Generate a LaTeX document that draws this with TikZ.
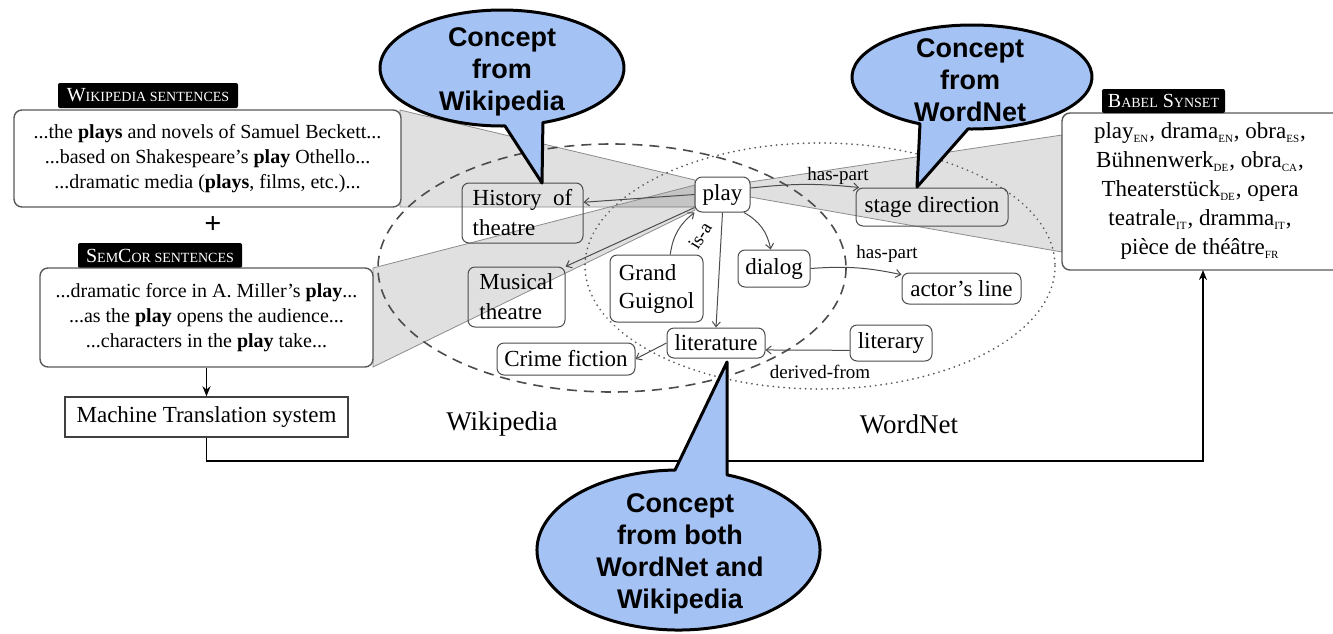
\documentclass[tikz,border=0pt]{standalone}
\usepackage{fontspec}
\setmainfont{Liberation Serif}
\newfontfamily\bubblefont{Liberation Sans}
\usetikzlibrary{arrows.meta}
\definecolor{bubbleblue}{HTML}{A4C2F4}
\newcommand\lngsub[1]{\textsubscript{\fontsize{5.5}{5.5}\selectfont #1}}
\newcommand\bigsc[1]{{\fontsize{10}{10}\selectfont #1}}
\newcommand\smsc[1]{{\fontsize{7}{7}\selectfont #1}}
\begin{document}
\begin{tikzpicture}[x=0.5pt,y=-0.5pt,
  wedge/.style={fill=black, fill opacity=0.12, draw=black!45, draw opacity=1, line width=0.4pt},
  sentbox/.style={draw=black!65, line width=0.7pt, rounded corners=4pt, fill=white, align=center, font=\fontsize{10}{12.5}\selectfont, inner sep=0pt},
  tab/.style={fill=black, text=white, inner sep=0pt, rounded corners=1pt},
  gnode/.style={draw=black!70, line width=0.5pt, rounded corners=3.5pt, inner sep=0pt, font=\fontsize{11.5}{12}\selectfont},
  gedge/.style={draw=black!70, line width=0.5pt, -{Straight Barb[length=2.5pt,width=4pt]}},
  elab/.style={font=\fontsize{9.5}{10}\selectfont, inner sep=0pt},
  bubble/.style={fill=bubbleblue, draw=black, line width=1.5pt, line join=round},
  btext/.style={align=center, inner sep=0pt, font=\bubblefont\bfseries\fontsize{13.5}{16}\selectfont},
  setlab/.style={font=\fontsize{13.5}{14}\selectfont, inner sep=0pt},
  wpell/.style={draw=black!70, line width=0.8pt, dash pattern=on 5pt off 3.5pt},
  wnell/.style={draw=black!65, line width=0.9pt, dash pattern=on 0.1pt off 2.6pt, line cap=round}]
\useasboundingbox (0,0) rectangle (1333,633);

% shaded wedges
\path[wedge] (400,110) -- (695,180) -- (695,207) -- (400,207) -- cycle;
\path[wedge] (373,268) -- (695,185) -- (695,210) -- (373,367) -- cycle;
\path[wedge] (750,182) -- (1062,135) -- (1062,252) -- (750,197) -- cycle;

% sets
\draw[wpell] (612,268) ellipse [x radius=234, y radius=124];
\draw[wnell] (820,266) ellipse [x radius=235, y radius=123];
\node[setlab] (wplab) at (502,424) {Wikipedia};
\node[setlab] (wnlab) at (909,424) {WordNet};

% left side
\node[tab, minimum width=90pt, minimum height=12.5pt] (wptab) at (148,95.5) {\bigsc{W}\smsc{IKIPEDIA SENTENCES}};
\node[sentbox, minimum width=193.5pt, minimum height=48.5pt] (wpbox) at (207.5,158.5)
  {...the \textbf{plays} and novels of Samuel Beckett...\\
   ...based on Shakespeare's \textbf{play} Othello...\\
   ...dramatic media (\textbf{plays}, films, etc.)...};
\node[font=\bfseries\fontsize{15}{15}\selectfont, inner sep=0pt] (plus) at (213,225) {+};
\node[tab, minimum width=82pt, minimum height=12.5pt] (sctab) at (160,255.5) {\bigsc{S}\smsc{EM}\bigsc{C}\smsc{OR SENTENCES}};
\node[sentbox, minimum width=166.5pt, minimum height=49.5pt] (scbox) at (206.5,317.5)
  {...dramatic force in A. Miller's \textbf{play}...\\
   ...as the \textbf{play} opens the audience...\\
   ...characters in the \textbf{play} take...};
\node[draw=black!75, line width=0.7pt, minimum width=141.5pt, minimum height=20pt, inner sep=0pt, font=\fontsize{11.5}{12}\selectfont] (mt) at (206.5,417) {Machine Translation system};

% Babel synset
\draw[draw=black!65, line width=0.7pt, fill=white, rounded corners=4pt] (1334,113) -- (1062,113) -- (1062,270) -- (1334,270);
\node[tab, minimum width=61.5pt, minimum height=12pt] (bstab) at (1163.5,101) {\bigsc{B}\smsc{ABEL} \bigsc{S}\smsc{YNSET}};
\node[align=center, font=\fontsize{11.5}{14.5}\selectfont, inner sep=0pt] (bstext) at (1200,191)
  {play\lngsub{EN}, drama\lngsub{EN}, obra\lngsub{ES},\\
   Bühnenwerk\lngsub{DE}, obra\lngsub{CA},\\
   Theaterstück\lngsub{DE}, opera\\
   teatrale\lngsub{IT}, dramma\lngsub{IT},\\
   pièce de théâtre\lngsub{FR}};
\coordinate (bsbot) at (1203,270);

\draw[-{Stealth[length=5pt,width=4pt]}, line width=0.8pt] (scbox.south) -- (mt.north);
\draw[-{Stealth[length=5pt,width=4pt]}, line width=0.8pt] (mt.south) -- ++(0,23) -| (bsbot);

% graph nodes
\node[gnode, fill=white, minimum width=27.5pt, minimum height=17.5pt] (play) at (722.5,194.5) {play};
\node[gnode, minimum width=60.5pt, minimum height=30pt, align=left, font=\fontsize{11.5}{15}\selectfont] (hist) at (522.5,213) {History\ \ of\\theatre};
\node[gnode, minimum width=48.5pt, minimum height=30pt, align=left, font=\fontsize{11.5}{15}\selectfont] (mus) at (516.5,297) {Musical\\theatre};
\node[gnode, fill=white, minimum width=46.5pt, minimum height=33.5pt, align=left, font=\fontsize{11.5}{14}\selectfont] (gg) at (656.5,288.5) {Grand\\Guignol};
\node[gnode, fill=white, minimum width=36pt, minimum height=18.5pt] (dialog) at (774,268.5) {dialog};
\node[gnode, fill=white, minimum width=49pt, minimum height=15pt] (lit) at (716,343) {literature};
\node[gnode, fill=white, minimum width=69pt, minimum height=16pt] (crime) at (566,359) {Crime fiction};
\node[gnode, minimum width=76pt, minimum height=19pt] (stage) at (932,207) {stage direction};
\node[gnode, fill=white, minimum width=59.5pt, minimum height=15.5pt] (actor) at (961.5,288.5) {actor's line};
\node[gnode, fill=white, minimum width=41pt, minimum height=18pt] (literary) at (891,343) {literary};

% graph edges
\draw[gedge] (play.west) -- (hist.10);
\draw[gedge] (play.205) -- (mus.north east);
\draw[gedge] (gg.68) to[bend left=22] (play.south west);
\node[elab, rotate=58] (isa) at (700,236) {is-a};
\draw[gedge] (play.south) -- (lit.north);
\draw[gedge] (play.-40) to[bend left=25] (dialog.100);
\draw[gedge] (dialog.east) to[bend left=8] (actor.167);
\node[elab] (hp2) at (887,254) {has-part};
\draw[gedge] (play.13) to[bend left=6] (stage.165);
\node[elab] (hp1) at (838,176) {has-part};
\draw[gedge] (literary.190) -- (lit.-8);
\node[elab] (df) at (820,372) {derived-from};
\draw[gedge] (lit.west) -- (crime.east);

% callouts
\draw[bubble] ({502+122*cos(70.4)},{68+58*sin(70.4)}) -- (542,183) -- ({502+122*cos(88.6)},{68+58*sin(88.6)})
  arc[start angle=88.6, end angle=430.4, x radius=122, y radius=58] -- cycle;
\node[btext] (bwp) at (502,72) {Concept\\from\\Wikipedia};

\draw[bubble] ({972+120*cos(115.7)},{77+52*sin(115.7)}) -- (917,187) -- ({972+120*cos(91.9)},{77+52*sin(91.9)})
  arc[start angle=91.9, end angle=-244.3, x radius=120, y radius=52] -- cycle;
\node[btext] (bwn) at (970,80) {Concept\\from\\WordNet};

\draw[bubble] ({678.5+141.5*cos(268.6)},{550+80*sin(268.6)}) -- (727,362) -- ({678.5+141.5*cos(290.05)},{550+80*sin(290.05)})
  arc[start angle=290.05, end angle=628.6, x radius=141.5, y radius=80] -- cycle;
\node[btext] (bboth) at (680,554) {Concept\\from both\\WordNet and\\Wikipedia};
\end{tikzpicture}
\end{document}
